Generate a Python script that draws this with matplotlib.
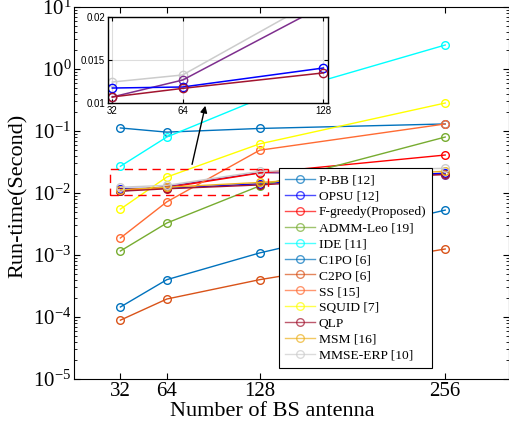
import numpy as np
import matplotlib
matplotlib.use("Agg")
import matplotlib.pyplot as plt
from matplotlib.patches import Rectangle

plt.rcParams["font.family"] = ["Liberation Serif", "DejaVu Serif"]
plt.rcParams["mathtext.fontset"] = "custom"
plt.rcParams["mathtext.rm"] = "Liberation Serif"
plt.rcParams["mathtext.default"] = "regular"

antennas = [32, 64, 128, 256]

# run-time (s) per method
p_bb     = [0.112, 0.096, 0.110, 0.130]
opsu     = [0.0118, 0.0119, 0.0141, 0.0210]
f_greedy = [0.0112, 0.0122, 0.0210, 0.0410]
admm_leo = [0.00116, 0.00328, 0.0130, 0.080]
ide      = [0.027, 0.080, 0.330, 2.44]
c1po     = [1.45e-4, 4.0e-4, 1.08e-3, 5.3e-3]
c2po     = [8.9e-5, 1.95e-4, 4.0e-4, 1.25e-3]
ss       = [1.88e-3, 7.2e-3, 0.049, 0.130]
squid    = [5.5e-3, 0.0181, 0.062, 0.283]
qlp      = [0.0107, 0.0117, 0.0135, 0.0200]
msm      = [0.0113, 0.0124, 0.0148, 0.0225]
mmse_erp = [0.0124, 0.0133, 0.0224, 0.0250]
extra    = [0.0107, 0.0127, 0.0213, 0.0198]   # purple curve, not in legend

# zoomed inset values
inset_x     = [32, 64, 128]
inset_grey  = [0.01244, 0.01326, 0.0224]
inset_purp  = [0.0107, 0.01267, 0.0213]
inset_blue  = [0.01174, 0.01186, 0.01407]
inset_maroon = [0.0107, 0.0117, 0.0135]

series = [
    ("P-BB [12]",          p_bb,     (0.0, 0.447, 0.741)),
    ("OPSU [12]",          opsu,     (0.0, 0.0, 1.0)),
    ("F-greedy(Proposed)", f_greedy, (1.0, 0.0, 0.0)),
    ("ADMM-Leo [19]",      admm_leo, (0.466, 0.674, 0.188)),
    ("IDE [11]",           ide,      (0.0, 1.0, 1.0)),
    ("C1PO [6]",           c1po,     (0.0, 0.447, 0.741)),
    ("C2PO [6]",           c2po,     (0.85, 0.325, 0.098)),
    ("SS [15]",            ss,       (1.0, 0.42, 0.2)),
    ("SQUID [7]",          squid,    (1.0, 1.0, 0.0)),
    ("QLP",                qlp,      (0.635, 0.078, 0.184)),
    ("MSM [16]",           msm,      (0.929, 0.694, 0.125)),
    ("MMSE-ERP [10]",      mmse_erp, (0.8, 0.8, 0.8)),
]

fig = plt.figure(figsize=(5.09, 4.32), dpi=100)
ax = fig.add_axes([0.1454, 0.1227, 0.8546, 0.861])

ax.plot(antennas, extra, color=(0.494, 0.184, 0.556), lw=1, marker="o",
        mfc="none", ms=5.5, mew=1)
for name, vals, col in series:
    ax.plot(antennas, vals, color=col, lw=1, marker="o", mfc="none",
            ms=5.5, mew=1, label=name)

ax.set_yscale("log")
ax.set_ylim(1e-5, 1e1)
ax.set_xlim(0, 300)
ax.set_xticks(antennas)
ax.set_yticks([1e-5, 1e-4, 1e-3, 1e-2, 1e-1, 1e0, 1e1])
ax.tick_params(which="both", direction="in", top=True, right=True,
               labelsize=15, pad=2)
ax.tick_params(which="major", length=4)
ax.tick_params(which="minor", length=2)
for s in ax.spines.values():
    s.set_linewidth(0.8)

ax.set_xlabel("Number of BS antenna", fontsize=16)
ax.set_ylabel("Run-time(Second)", fontsize=16)
ax.xaxis.set_label_coords(0.455, -0.062)
ax.yaxis.set_label_coords(-0.106, 0.492)

# dashed zoom box and arrow to inset
ax.add_patch(Rectangle((25, 0.0093), 109, 0.0151, fill=False,
                       edgecolor="red", lw=1, ls=(0, (6, 4)), zorder=4))
ax.annotate("", xy=(91, 0.283), xytext=(81, 0.0262),
            arrowprops=dict(arrowstyle="-|>", color="k", lw=1,
                            mutation_scale=10))

leg = ax.legend(loc="upper left", bbox_to_anchor=(0.471, 0.567),
                borderaxespad=0, fontsize=9.7, labelspacing=0.26,
                handlelength=2.2, handletextpad=0.3, borderpad=0.45,
                fancybox=False, framealpha=1, edgecolor="black")
leg.get_frame().set_linewidth(0.8)
for h in leg.get_lines():
    h.set_alpha(0.7)

# inset
axi = fig.add_axes([0.212, 0.7616, 0.432, 0.199])
axi.plot(inset_x, inset_grey, color=(0.8, 0.8, 0.8), lw=1.1, marker="o",
         mfc="none", ms=6, mew=1)
axi.plot(inset_x, inset_purp, color=(0.494, 0.184, 0.556), lw=1.1,
         marker="o", mfc="none", ms=6, mew=1)
axi.plot(inset_x, inset_blue, color=(0.0, 0.0, 1.0), lw=1.1, marker="o",
         mfc="none", ms=6, mew=1)
axi.plot(inset_x, inset_maroon, color=(0.635, 0.078, 0.184), lw=1.1,
         marker="o", mfc="none", ms=6, mew=1)
axi.set_xlim(30, 130)
axi.set_ylim(0.01, 0.02)
axi.set_xticks(inset_x)
axi.set_yticks([0.01, 0.015, 0.02])
axi.set_yticklabels(["0.01", "0.015", "0.02"])
axi.grid(True, color="#dddddd", lw=0.8)
axi.tick_params(direction="in", labelsize=7, pad=2, length=3,
                top=True, right=True)
for lab in axi.get_xticklabels() + axi.get_yticklabels():
    lab.set_family(["Liberation Sans", "DejaVu Sans"])
for s in axi.spines.values():
    s.set_linewidth(1.0)

plt.savefig("out.png", dpi=100)
